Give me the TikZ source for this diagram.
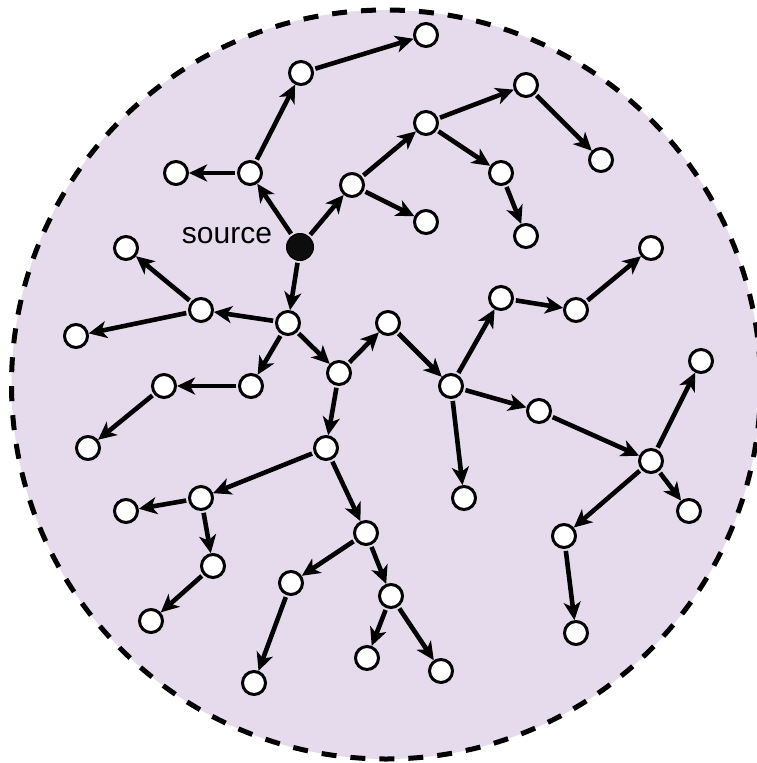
\documentclass[tikz,border=0pt]{standalone}
\usepackage{fontspec}
\setmainfont{Liberation Sans}
\usetikzlibrary{arrows.meta}
\definecolor{bgpurple}{RGB}{230,219,236}
\tikzset{
  vtx/.style={circle,draw=black,line width=3pt,fill=white,minimum size=23pt,inner sep=0pt},
  srcvtx/.style={circle,draw=black,line width=1pt,fill=black!95,minimum size=27pt,inner sep=0pt},
  edge/.style={line width=4.6pt,-{Stealth[length=18pt,width=17pt,inset=5pt]},shorten <=2pt},
  region/.style={fill=bgpurple,draw=black,line width=5pt,dash pattern=on 15pt off 14pt}
}
\begin{document}
\begin{tikzpicture}[x=1pt,y=-1pt]
\useasboundingbox (0,0) rectangle (756,763);
\path[region] (386,384.5) circle[radius=374.5];
\node[srcvtx] (src) at (300,247) {};
\node[anchor=base,font=\fontsize{30}{36}\selectfont] (lbl) at (227,243) {source};
\foreach \n/\x/\y in {a/250/173,a1/176/173,a2/301/73,a3/426/35,b/352/185,b1/426/222,
  n/426/123,o/526/85,o1/601/160,p/501/173,p1/526/236,c/288/323,d/201/310,d1/126/248,
  d2/76/336,f/251/386,g/164/386,g1/88/448,e/339/373,h/326/448,i/201/498,i1/126/511,
  j/213/566,j1/151/621,k/366/533,l/291/583,l1/254/683,m/391/596,m1/367/658,m2/441/671,
  q/388/323,r/451/386,r1/464/498,s/501/298,t/576/310,t1/651/248,u/539/411,v/651/461,
  v1/701/361,v2/689/511,w/564/536,w1/576/633}
  {\node[vtx] (\n) at (\x,\y) {};}
\foreach \s/\t in {src/a,src/b,src/c,a/a1,a/a2,a2/a3,b/n,b/b1,n/o,n/p,o/o1,p/p1,
  c/d,c/f,c/e,d/d1,d/d2,f/g,g/g1,e/h,e/q,h/i,h/k,i/i1,i/j,j/j1,k/l,k/m,l/l1,m/m1,m/m2,
  q/r,r/s,r/u,r/r1,s/t,t/t1,u/v,v/v1,v/v2,v/w,w/w1}
  {\draw[edge] (\s) -- (\t);}
\end{tikzpicture}
\end{document}
